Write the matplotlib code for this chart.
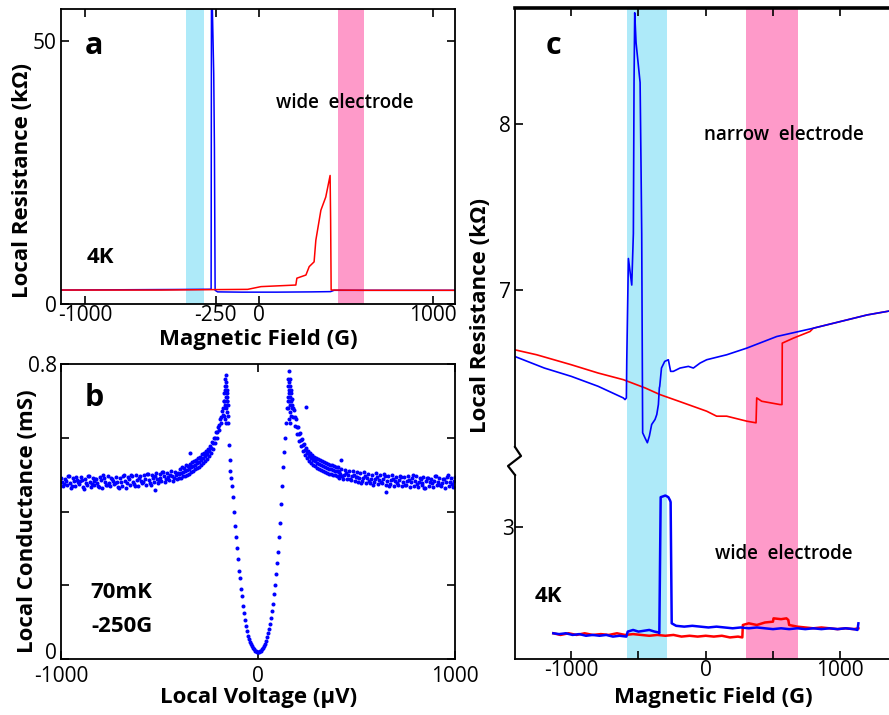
import numpy as np
import matplotlib.pyplot as plt
from matplotlib.lines import Line2D
from matplotlib.transforms import ScaledTranslation

plt.rcParams['font.family'] = ['Open Sans', 'DejaVu Sans']

# ---- panel a: wide electrode, 4K ----
a_blue_field = [-1140, -800, -500, -277, -275, -271, -262, -258, -254, -240, -100, 100, 300, 410, 430, 1125]
a_blue_res = [2.65, 2.7, 2.75, 2.8, 58, 58, 43.7, 29.8, 2.6, 2.3, 2.25, 2.25, 2.3, 2.35, 2.6, 2.6]
a_red_field = [-1140, -564, -67, 10, 210, 216, 268, 287, 315, 325, 354, 382, 407, 410, 413, 600, 1125]
a_red_res = [2.65, 2.65, 2.78, 3.3, 3.6, 4.9, 5.5, 7.1, 8.0, 12.1, 17.8, 20.3, 24.4, 15.9, 2.65, 2.6, 2.6]
a_cyan_band = (-420, -316)
a_pink_band = (454, 603)

# ---- panel b: conductance vs voltage, 70mK, -250G ----
flat_l_va = [-1000, -980, -960, -940, -920, -900, -880, -860, -840, -820, -800, -780, -760, -740, -720,
             -700, -680, -660, -640, -620, -600, -580, -560, -540, -520, -500, -480, -460, -440, -420]
flat_l_vb = [-990, -970, -950, -930, -910, -890, -870, -850, -830, -810, -790, -770, -750, -730, -710,
             -690, -670, -650, -630, -610, -590, -570, -550, -530, -510, -490, -470, -450, -430, -410]
flat_l_vc = [-995, -975, -955, -935, -915, -895, -875, -855, -835, -815, -795, -775, -755, -735, -715,
             -695, -675, -655, -635, -615, -595, -575, -555, -535, -515, -495, -475, -455, -435, -415]
flat_l_vd = [-985, -965, -945, -925, -905, -885, -865, -845, -825, -805, -785, -765, -745, -725, -705,
             -685, -665, -645, -625, -605, -585, -565, -545, -525, -505, -485, -465, -445, -425, -405]
flat_l_ga = [0.492, 0.488, 0.495, 0.490, 0.486, 0.494, 0.489, 0.497, 0.491, 0.487, 0.493, 0.490, 0.496, 0.488, 0.494,
             0.491, 0.498, 0.493, 0.496, 0.499, 0.495, 0.500, 0.503, 0.498, 0.505, 0.502, 0.507, 0.504, 0.510, 0.508]
flat_l_gb = [0.468, 0.472, 0.465, 0.470, 0.474, 0.466, 0.471, 0.467, 0.473, 0.469, 0.464, 0.471, 0.468, 0.474, 0.467,
             0.470, 0.465, 0.472, 0.475, 0.470, 0.476, 0.473, 0.478, 0.480, 0.476, 0.482, 0.479, 0.485, 0.483, 0.488]
flat_l_gc = [0.480, 0.484, 0.478, 0.482, 0.479, 0.485, 0.477, 0.481, 0.483, 0.478, 0.486, 0.480, 0.476, 0.484, 0.481,
             0.479, 0.483, 0.487, 0.481, 0.485, 0.484, 0.488, 0.486, 0.491, 0.489, 0.492, 0.495, 0.493, 0.497, 0.499]
flat_l_gd = [0.475, 0.497, 0.470, 0.493, 0.482, 0.462, 0.496, 0.474, 0.489, 0.466, 0.498, 0.473, 0.491, 0.477, 0.463,
             0.495, 0.476, 0.500, 0.469, 0.492, 0.480, 0.502, 0.471, 0.497, 0.483, 0.506, 0.488, 0.500, 0.490, 0.505]

flat_r_va = [420, 440, 460, 480, 500, 520, 540, 560, 580, 600, 620, 640, 660, 680, 700,
             720, 740, 760, 780, 800, 820, 840, 860, 880, 900, 920, 940, 960, 980, 1000]
flat_r_vb = [410, 430, 450, 470, 490, 510, 530, 550, 570, 590, 610, 630, 650, 670, 690,
             710, 730, 750, 770, 790, 810, 830, 850, 870, 890, 910, 930, 950, 970, 990]
flat_r_vc = [415, 435, 455, 475, 495, 515, 535, 555, 575, 595, 615, 635, 655, 675, 695,
             715, 735, 755, 775, 795, 815, 835, 855, 875, 895, 915, 935, 955, 975, 995]
flat_r_vd = [405, 425, 445, 465, 485, 505, 525, 545, 565, 585, 605, 625, 645, 665, 685,
             705, 725, 745, 765, 785, 805, 825, 845, 865, 885, 905, 925, 945, 965, 985]
flat_r_ga = [0.515, 0.512, 0.509, 0.511, 0.506, 0.504, 0.507, 0.502, 0.500, 0.504, 0.498, 0.501, 0.496, 0.499, 0.494,
             0.497, 0.493, 0.496, 0.491, 0.495, 0.490, 0.494, 0.492, 0.489, 0.495, 0.491, 0.488, 0.493, 0.490, 0.494]
flat_r_gb = [0.492, 0.489, 0.487, 0.485, 0.483, 0.480, 0.482, 0.478, 0.476, 0.479, 0.474, 0.477, 0.472, 0.475, 0.470,
             0.473, 0.468, 0.472, 0.466, 0.470, 0.467, 0.471, 0.465, 0.469, 0.466, 0.472, 0.468, 0.465, 0.470, 0.467]
flat_r_gc = [0.503, 0.500, 0.498, 0.496, 0.494, 0.492, 0.490, 0.491, 0.487, 0.489, 0.485, 0.488, 0.484, 0.486, 0.482,
             0.485, 0.480, 0.484, 0.479, 0.483, 0.481, 0.478, 0.482, 0.479, 0.484, 0.480, 0.477, 0.481, 0.479, 0.482]
flat_r_gd = [0.510, 0.496, 0.505, 0.488, 0.500, 0.493, 0.478, 0.497, 0.484, 0.472, 0.493, 0.481, 0.497, 0.469, 0.488,
             0.476, 0.494, 0.471, 0.486, 0.499, 0.474, 0.487, 0.463, 0.492, 0.477, 0.496, 0.472, 0.488, 0.498, 0.474]

rise_l_v = [-400, -390, -380, -370, -360, -350, -340, -330, -320, -310, -300, -290,
            -280, -270, -260, -250, -240, -230, -220, -210, -200, -190, -180]
rise_l_g = [0.503, 0.505, 0.507, 0.510, 0.512, 0.516, 0.520, 0.523, 0.527, 0.531, 0.535, 0.541,
            0.546, 0.551, 0.557, 0.563, 0.572, 0.585, 0.600, 0.615, 0.635, 0.655, 0.680]
rise_l_vh = [-395, -385, -375, -365, -355, -345, -335, -325, -315, -305, -295, -285,
             -275, -265, -255, -245, -235, -225, -215, -205, -195, -185, -175]
rise_l_gh = [0.516, 0.520, 0.519, 0.525, 0.524, 0.530, 0.533, 0.538, 0.540, 0.545, 0.549, 0.556,
             0.558, 0.565, 0.570, 0.578, 0.588, 0.600, 0.616, 0.630, 0.650, 0.672, 0.700]
rise_l_gl = [0.490, 0.492, 0.495, 0.496, 0.500, 0.502, 0.507, 0.509, 0.514, 0.517, 0.521, 0.527,
             0.532, 0.537, 0.543, 0.550, 0.558, 0.570, 0.585, 0.600, 0.620, 0.640, 0.662]

fall_r_v = [180, 190, 200, 210, 220, 230, 240, 250, 260, 270, 280, 290,
            300, 310, 320, 330, 340, 350, 360, 370, 380, 390, 400, 410]
fall_r_g = [0.680, 0.655, 0.630, 0.610, 0.595, 0.580, 0.568, 0.558, 0.550, 0.545, 0.540, 0.536,
            0.532, 0.529, 0.526, 0.523, 0.520, 0.518, 0.516, 0.514, 0.512, 0.510, 0.509, 0.507]
fall_r_vh = [175, 185, 195, 205, 215, 225, 235, 245, 255, 265, 275, 285,
             295, 305, 315, 325, 335, 345, 355, 365, 375, 385, 395, 405]
fall_r_gh = [0.705, 0.675, 0.652, 0.630, 0.612, 0.596, 0.584, 0.572, 0.565, 0.558, 0.553, 0.549,
             0.546, 0.542, 0.539, 0.536, 0.533, 0.531, 0.529, 0.527, 0.525, 0.523, 0.521, 0.520]
fall_r_gl = [0.655, 0.632, 0.610, 0.592, 0.578, 0.565, 0.553, 0.545, 0.537, 0.532, 0.527, 0.523,
             0.519, 0.516, 0.513, 0.510, 0.507, 0.505, 0.503, 0.501, 0.499, 0.498, 0.496, 0.494]

peak_l_v = [-175, -172, -170, -168, -167, -165, -164, -163, -162, -161, -160, -159, -158, -157, -156,
            -155, -154, -153, -171, -166, -162]
peak_l_g = [0.70, 0.72, 0.74, 0.69, 0.76, 0.73, 0.77, 0.71, 0.75, 0.68, 0.74, 0.72, 0.70, 0.73, 0.67,
            0.71, 0.69, 0.66, 0.66, 0.65, 0.64]
peak_r_v = [150, 152, 153, 154, 155, 156, 157, 158, 159, 160, 161, 162, 163, 164, 165,
            166, 168, 170, 172, 175, 158, 163]
peak_r_g = [0.70, 0.74, 0.68, 0.76, 0.72, 0.78, 0.70, 0.75, 0.73, 0.69, 0.76, 0.71, 0.74, 0.67, 0.72,
            0.70, 0.66, 0.73, 0.69, 0.68, 0.65, 0.64]

gap_v = [-155, -152, -148, -144, -140, -135, -130, -125, -120, -115, -110, -105, -100, -95, -90,
         -85, -80, -75, -70, -65, -60, -55, -50, -45, -40, -35, -30, -25, -20, -15, -10, -5, 0,
         5, 10, 15, 20, 25, 30, 35, 40, 45, 50, 55, 60, 65, 70, 75, 80, 85, 90,
         95, 100, 105, 110, 115, 120, 125, 130, 135, 140, 145, 150]
gap_g = [0.70, 0.64, 0.58, 0.54, 0.51, 0.49, 0.47, 0.44, 0.40, 0.36, 0.33, 0.30, 0.27, 0.24, 0.22,
         0.19, 0.17, 0.145, 0.125, 0.105, 0.09, 0.075, 0.063, 0.053, 0.046, 0.04, 0.034, 0.029, 0.026, 0.023, 0.021, 0.02, 0.02,
         0.02, 0.021, 0.023, 0.026, 0.03, 0.035, 0.042, 0.05, 0.06, 0.07, 0.082, 0.095, 0.11, 0.13, 0.15, 0.175, 0.20, 0.23,
         0.26, 0.29, 0.33, 0.37, 0.42, 0.47, 0.52, 0.56, 0.60, 0.64, 0.68, 0.71]

stray_v = [-525, -347, 245, 423, 651]
stray_g = [0.458, 0.558, 0.684, 0.54, 0.454]

# ---- panel c: narrow (top) and wide (bottom) electrode, 4K ----
c_red_hi_field = [-1420, -1257, -1000, -800, -613, -450, -340, -200, 7, 81, 156, 305, 374, 379, 416, 552,
                  567, 569, 651, 775, 800, 1000, 1200, 1480]
c_red_hi_res = [6.64, 6.61, 6.55, 6.50, 6.46, 6.41, 6.37, 6.33, 6.27, 6.24, 6.24, 6.21, 6.20, 6.35, 6.33, 6.31,
                6.31, 6.68, 6.71, 6.75, 6.77, 6.81, 6.85, 6.89]
c_blue_hi_field = [-1420, -1200, -1000, -800, -613, -600, -590, -587, -575, -550, -538, -533, -528, -518, -488,
                   -481, -476, -469, -452, -434, -419, -402, -377, -364, -352, -345, -342, -329, -305, -278,
                   -261, -241, -191, -129, -92, -42, 7, 106, 156, 305, 528, 800, 1000, 1200, 1480]
c_blue_hi_res = [6.60, 6.53, 6.48, 6.42, 6.35, 6.34, 6.35, 6.58, 7.19, 7.03, 7.34, 8.25, 8.67, 8.49, 8.25,
                 7.74, 7.34, 6.14, 6.11, 6.08, 6.12, 6.19, 6.22, 6.25, 6.31, 6.41, 6.42, 6.53, 6.57, 6.58,
                 6.51, 6.51, 6.53, 6.54, 6.53, 6.56, 6.58, 6.60, 6.61, 6.65, 6.72, 6.77, 6.81, 6.85, 6.89]
c_red_lo_field = [-1133, -1080, -1020, -960, -900, -840, -780, -720, -660, -600, -540, -480, -420, -360, -300,
                  -240, -180, -120, -60, 0, 60, 120, 180, 240, 272, 276, 320, 380, 440, 500,
                  504, 560, 600, 614, 620, 680, 740, 800, 860, 920, 980, 1040, 1100, 1135]
c_red_lo_res = [2.36, 2.35, 2.36, 2.35, 2.36, 2.35, 2.355, 2.35, 2.36, 2.35, 2.355, 2.35, 2.345, 2.35, 2.345,
                2.35, 2.34, 2.345, 2.34, 2.345, 2.34, 2.345, 2.335, 2.34, 2.335, 2.41, 2.42, 2.41, 2.425, 2.43,
                2.45, 2.445, 2.45, 2.44, 2.41, 2.40, 2.395, 2.39, 2.395, 2.39, 2.385, 2.39, 2.385, 2.39]
c_blue_lo_field = [-1133, -1090, -1040, -990, -940, -890, -840, -790, -740, -690, -640, -590, -580, -540, -500,
                   -460, -420, -380, -350, -345, -335, -300, -278, -265, -261, -253, -220, -160, -100, -40,
                   20, 80, 140, 200, 260, 320, 380, 440, 500, 560, 620, 680, 740, 800, 860,
                   920, 980, 1040, 1100, 1128, 1135]
c_blue_lo_res = [2.36, 2.355, 2.36, 2.35, 2.355, 2.345, 2.35, 2.345, 2.35, 2.34, 2.345, 2.34, 2.37, 2.38, 2.37,
                 2.375, 2.38, 2.37, 2.365, 2.36, 3.18, 3.19, 3.18, 3.16, 3.15, 2.42, 2.405, 2.40, 2.405, 2.40,
                 2.395, 2.40, 2.395, 2.39, 2.395, 2.39, 2.395, 2.39, 2.385, 2.39, 2.385, 2.39, 2.385, 2.39, 2.385,
                 2.39, 2.385, 2.39, 2.385, 2.38, 2.42]
c_cyan_band = (-583, -290)
c_pink_band = (297, 684)

CYAN = '#aeeaf9'
PINK = '#fe9ac9'
BLUE = '#0000ff'
RED = '#ff0000'
W, H = 889, 715
TICK_FS = 15


def box(l, t, r, b):
    return [l / W, 1 - b / H, (r - l) / W, (b - t) / H]


def px(x, y):
    return x / W, 1 - y / H


def style(ax):
    for s in ax.spines.values():
        s.set_linewidth(1.3)
    ax.tick_params(direction='in', length=6, width=1.2, labelsize=TICK_FS, pad=3,
                   top=True, right=True)


fig = plt.figure(figsize=(W / 100, H / 100), dpi=100)

# panel a
ax = fig.add_axes(box(61, 9, 455, 304))
ax.axvspan(*a_cyan_band, color=CYAN, lw=0)
ax.axvspan(*a_pink_band, color=PINK, lw=0)
ax.plot(a_blue_field, a_blue_res, color=BLUE, lw=1.1)
ax.plot(a_red_field, a_red_res, color=RED, lw=1.1)
ax.set_xlim(-1140, 1125)
ax.set_ylim(0, 56)
ax.set_xticks([-1000, -250, 0, 1000], ['-1000', '-250', '0', '1000'])
ax.set_yticks([0, 50], ['0', '50'])
style(ax)
ax.tick_params(axis='x', pad=1)

# panel b
ax = fig.add_axes(box(61, 364, 455, 659))
for vs, gs in [(flat_l_va, flat_l_ga), (flat_l_vb, flat_l_gb), (flat_l_vc, flat_l_gc), (flat_l_vd, flat_l_gd),
               (flat_r_va, flat_r_ga), (flat_r_vb, flat_r_gb), (flat_r_vc, flat_r_gc), (flat_r_vd, flat_r_gd),
               (rise_l_v, rise_l_g), (rise_l_vh, rise_l_gh), (rise_l_v, rise_l_gl),
               (fall_r_v, fall_r_g), (fall_r_vh, fall_r_gh), (fall_r_v, fall_r_gl),
               (peak_l_v, peak_l_g), (peak_r_v, peak_r_g), (gap_v, gap_g), (stray_v, stray_g)]:
    ax.plot(vs, gs, 'o', color=BLUE, ms=2.9, mec='none')
ax.set_xlim(-1000, 1000)
ax.set_ylim(0, 0.8)
ax.set_xticks([-1000, 0, 1000], ['-1000', '0', '1000'])
ax.set_yticks([0, 0.2, 0.4, 0.6, 0.8], ['0', '', '', '', '0.8'])
style(ax)
ax.tick_params(axis='x', pad=5)
zero_lab = ax.get_yticklabels()[0]
zero_lab.set_transform(zero_lab.get_transform() + ScaledTranslation(0, 8 / 100, fig.dpi_scale_trans))

# panel c, broken y axis: two stacked axes
c_xlim = (-1418, 1500)
axu = fig.add_axes(box(515, 8, 907.5, 461))
axl = fig.add_axes(box(515, 461, 907.5, 659))
for a in (axu, axl):
    a.axvspan(*c_cyan_band, color=CYAN, lw=0)
    a.axvspan(*c_pink_band, color=PINK, lw=0)
    a.set_xlim(*c_xlim)
    for s in a.spines.values():
        s.set_linewidth(1.3)
    a.spines['right'].set_visible(False)
axu.plot(c_red_hi_field, c_red_hi_res, color=RED, lw=1.2)
axu.plot(c_blue_hi_field, c_blue_hi_res, color=BLUE, lw=1.2)
axl.plot(c_red_lo_field, c_red_lo_res, color=RED, lw=1.8)
axl.plot(c_blue_lo_field, c_blue_lo_res, color=BLUE, lw=1.8)

axu.set_ylim(5.970, 8.699)
axl.set_ylim(2.205, 3.398)
axu.spines['bottom'].set_visible(False)
axu.spines['top'].set_linewidth(2.6)
axl.spines['top'].set_visible(False)
axu.spines['left'].set_bounds(6.054, 8.699)
axl.spines['left'].set_bounds(2.205, 3.313)

axu.set_yticks([7, 8], ['7', '8'])
axu.set_xticks([-1000, -500, 0, 500, 1000])
axu.tick_params(direction='in', length=6, width=1.2, labelsize=TICK_FS, pad=3,
                top=True, bottom=False, labelbottom=False, right=False)
axl.set_yticks([3], ['3'])
axl.set_xticks([-1000, -500, 0, 500, 1000], ['-1000', '', '0', '', '1000'])
axl.tick_params(direction='in', length=6, width=1.2, labelsize=TICK_FS, pad=1,
                top=False, right=False)

zx, zy = zip(px(515, 447), px(521, 456), px(508, 466), px(515, 475))
fig.add_artist(Line2D(zx, zy, color='black', lw=1.6, transform=fig.transFigure))


# text
def put(x, y, s, size, weight='bold', rot=0):
    fig.text(*px(x, y), s, fontsize=size, fontweight=weight, rotation=rot,
             ha='center', va='center')


put(94, 46, 'a', 22)
put(345, 103, 'wide  electrode', 13.5, 'semibold')
put(100, 258, '4K', 16)
put(258, 340, 'Magnetic Field (G)', 16)
put(23, 181, 'Local Resistance (k\u03a9)', 16, rot=90)

put(94, 398, 'b', 22)
put(121, 593, '70mK', 16)
put(122, 627, '-250G', 16)
put(259, 698, 'Local Voltage (\u03bcV)', 16)
put(28, 521, 'Local Conductance (mS)', 16, rot=90)

put(553, 46, 'c', 22)
put(784, 135, 'narrow  electrode', 13.5, 'semibold')
put(784, 554, 'wide  electrode', 13.5, 'semibold')
put(548, 597, '4K', 16)
put(713, 698, 'Magnetic Field (G)', 16)
put(481, 315, 'Local Resistance (k\u03a9)', 16, rot=90)

fig.savefig('out.png', dpi=100)
